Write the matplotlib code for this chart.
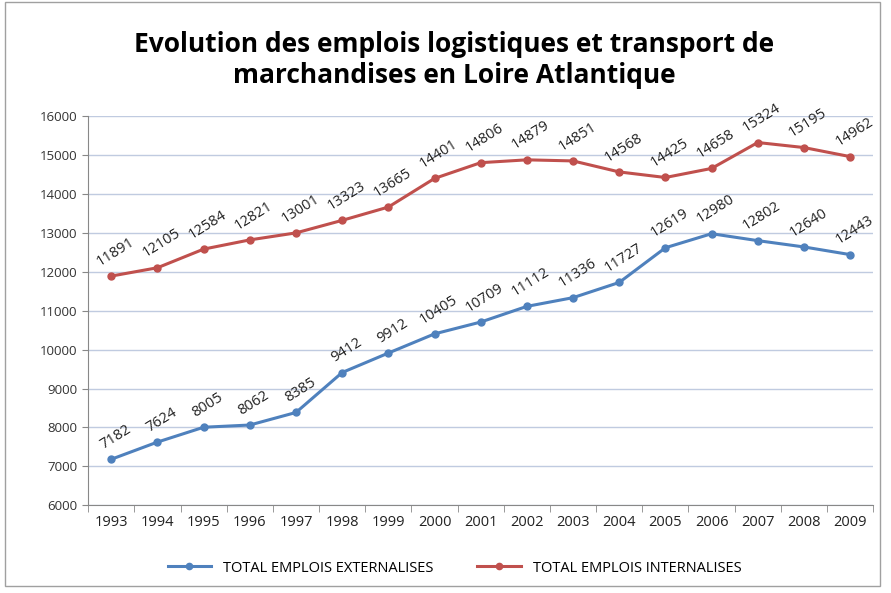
import matplotlib
matplotlib.use("Agg")
import matplotlib.pyplot as plt
from matplotlib.patches import Rectangle

# data
years = ["1993", "1994", "1995", "1996", "1997", "1998", "1999", "2000", "2001",
         "2002", "2003", "2004", "2005", "2006", "2007", "2008", "2009"]
externalises = [7182, 7624, 8005, 8062, 8385, 9412, 9912, 10405, 10709,
                11112, 11336, 11727, 12619, 12980, 12802, 12640, 12443]
internalises = [11891, 12105, 12584, 12821, 13001, 13323, 13665, 14401, 14806,
                14879, 14851, 14568, 14425, 14658, 15324, 15195, 14962]
y_ticks = list(range(6000, 16001, 1000))

plt.rcParams['font.family'] = ['Open Sans', 'DejaVu Sans']

fig = plt.figure(figsize=(8.91, 5.93), dpi=100)
ax = fig.add_axes([0.099, 0.148, 0.881, 0.656])

blue = "#4F81BD"
red = "#C0504D"
x = list(range(len(years)))

ax.plot(x, externalises, color=blue, lw=2.2, marker="o", ms=5,
        label="TOTAL EMPLOIS EXTERNALISES")
ax.plot(x, internalises, color=red, lw=2.2, marker="o", ms=5,
        label="TOTAL EMPLOIS INTERNALISES")

#value labels, tilted like in the excel chart
for series in (externalises, internalises):
    for xi, v in zip(x, series):
        ax.annotate(str(v), (xi, v), xytext=(3, 5), textcoords="offset points",
                    ha="center", va="bottom", rotation=32, fontsize=10.5,
                    color="#222222")

ax.set_xlim(-0.5, len(years) - 0.5)
ax.set_ylim(6000, 16000)
ax.set_yticks(y_ticks)
ax.set_yticklabels([str(t) for t in y_ticks], fontsize=9.5, color="#333333")
ax.set_xticks(x)
ax.set_xticklabels(years, fontsize=10.5, color="#222222")
ax.set_xticks([i - 0.5 for i in range(len(years) + 1)], minor=True)
ax.tick_params(axis="x", which="major", length=0, pad=7)
ax.tick_params(axis="x", which="minor", length=5, color="#888888")
ax.tick_params(axis="y", length=4, color="#888888")
ax.grid(axis="y", color="#C0CBE0", lw=1)
ax.set_axisbelow(True)
for side in ["top", "right"]:
    ax.spines[side].set_visible(False)
ax.spines["left"].set_color("#888888")
ax.spines["bottom"].set_color("#888888")

fig.text(0.51, 0.925, "Evolution des emplois logistiques et transport de",
         ha="center", va="center", fontsize=19, fontweight="bold")
fig.text(0.51, 0.873, "marchandises en Loire Atlantique",
         ha="center", va="center", fontsize=19, fontweight="bold")

fig.legend(loc="center", bbox_to_anchor=(0.51, 0.042), ncol=2, frameon=False,
           fontsize=10.5, handlelength=3, columnspacing=3, markerscale=0.9)

# thin frame around the whole chart
fig.patches.append(Rectangle((0.006, 0.012), 0.982, 0.985, transform=fig.transFigure,
                             fill=False, edgecolor="#A0A0A0", lw=1))

fig.savefig("out.png", dpi=100)
